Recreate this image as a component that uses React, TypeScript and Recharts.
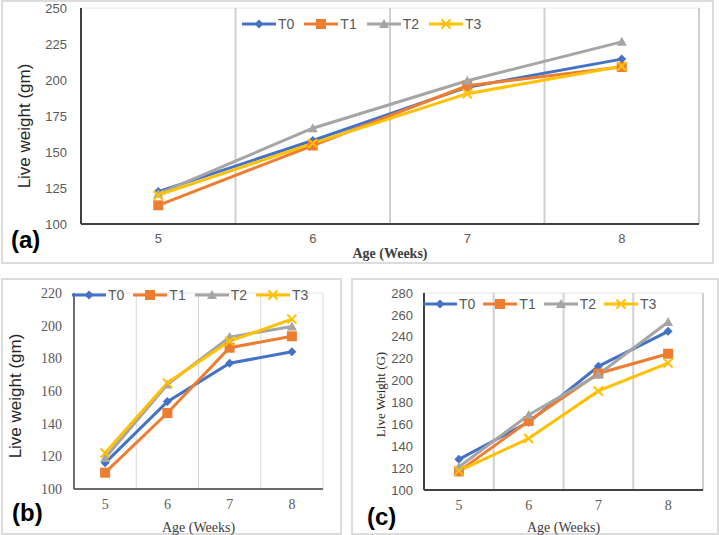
import { LineChart, Line, XAxis, YAxis, CartesianGrid, Legend, Label } from "recharts";

const weeks = [5, 6, 7, 8];
const seriesNames = ["T0", "T1", "T2", "T3"];
const seriesColors = ["#4472C4", "#ED7D31", "#A5A5A5", "#FFC000"];
const markerShapes = ["diamond", "square", "triangle", "x"];

// (a) live weight, gm
const aT0 = [122.5, 158, 195, 214.5];
const aT1 = [113, 154.5, 196, 209];
const aT2 = [121, 166.5, 199.5, 226.5];
const aT3 = [120, 156, 190.5, 209.5];
const aTicks = [100, 125, 150, 175, 200, 225, 250];

// (b) live weight, gm
const bT0 = [116, 153.5, 177, 184];
const bT1 = [110, 146.5, 186.5, 193.5];
const bT2 = [119, 164, 193, 199.5];
const bT3 = [122, 165, 190.5, 204];
const bTicks = [100, 120, 140, 160, 180, 200, 220];

// (c) live weight, G
const cT0 = [128, 162, 213, 245];
const cT1 = [117, 163, 206.5, 224.5];
const cT2 = [121, 168.5, 205.5, 253.5];
const cT3 = [117.5, 147, 190.5, 216];
const cTicks = [100, 120, 140, 160, 180, 200, 220, 240, 260, 280];

const weekTicks = [5, 6, 7, 8];
const bandEdges = [4.5, 5.5, 6.5, 7.5, 8.5];

const SANS = "'Liberation Sans', Arial, sans-serif";
const SERIF = "'Liberation Serif', 'Times New Roman', serif";

function buildRows(s0: number[], s1: number[], s2: number[], s3: number[]) {
  return weeks.map((w, i) => ({ week: w, T0: s0[i], T1: s1[i], T2: s2[i], T3: s3[i] }));
}

// excel-style minor gridlines: each major step split in 5
function minorTicks(ticks: number[]) {
  const out: number[] = [];
  for (let i = 0; i < ticks.length - 1; i++) {
    const step = (ticks[i + 1] - ticks[i]) / 5;
    for (let k = 0; k < 5; k++) out.push(ticks[i] + k * step);
  }
  out.push(ticks[ticks.length - 1]);
  return out;
}

function Marker({ cx, cy, shape, color }: any) {
  if (cx == null || cy == null) return null;
  if (shape === "diamond") {
    const s = 4.5;
    return <path d={`M${cx},${cy - s}L${cx + s},${cy}L${cx},${cy + s}L${cx - s},${cy}Z`} fill={color} />;
  }
  if (shape === "square") {
    const s = 5;
    return <rect x={cx - s} y={cy - s} width={2 * s} height={2 * s} fill={color} />;
  }
  if (shape === "triangle") {
    const s = 5;
    return <path d={`M${cx},${cy - s}L${cx + s},${cy + s * 0.8}L${cx - s},${cy + s * 0.8}Z`} fill={color} />;
  }
  const s = 4.5;
  return (
    <path
      d={`M${cx - s},${cy - s}L${cx + s},${cy + s}M${cx + s},${cy - s}L${cx - s},${cy + s}`}
      stroke={color}
      strokeWidth={2}
      fill="none"
    />
  );
}

function legendContent(gap: number, fontSize: number) {
  return (props: any) => (
    <div style={{ display: "flex", alignItems: "center" }}>
      {(props.payload || []).map((p: any) => {
        const idx = seriesNames.indexOf(p.value);
        return (
          <div key={p.value} style={{ display: "flex", alignItems: "center", marginRight: gap }}>
            <svg width={34} height={14}>
              <line x1={0} y1={7} x2={34} y2={7} stroke={p.color} strokeWidth={3} />
              <Marker cx={17} cy={7} shape={markerShapes[idx]} color={p.color} />
            </svg>
            <span style={{ marginLeft: 2, fontFamily: SANS, fontSize, color: "#595959" }}>{p.value}</span>
          </div>
        );
      })}
    </div>
  );
}

function Panel(props: any) {
  const {
    rows, ticks, width, height, margin, yAxisWidth, xAxisHeight,
    tickFont, tickSize, xTickFont, xTickSize, yTickMargin, xTickMargin,
    yLabel, yLabelFont, yLabelSize, yLabelOffset, yLabelDy,
    xLabelFont, xLabelSize, xLabelWeight, xLabelOffset,
    legendLeft, legendTop, legendGap, vGridColor, vGridWidth, axisWidth,
  } = props;
  const domain = [ticks[0], ticks[ticks.length - 1]];
  return (
    <LineChart width={width} height={height} data={rows} margin={margin}>
      <XAxis xAxisId="grid" dataKey="week" type="number" domain={[4.5, 8.5]} ticks={bandEdges} hide />
      <YAxis yAxisId="minor" type="number" domain={domain} ticks={minorTicks(ticks)} hide />
      <CartesianGrid xAxisId="grid" yAxisId="minor" vertical={false} stroke="#e6e6e6" strokeWidth={1} />
      <CartesianGrid xAxisId="grid" yAxisId="minor" horizontal={false} stroke={vGridColor} strokeWidth={vGridWidth} />
      <XAxis
        dataKey="week"
        type="number"
        domain={[4.5, 8.5]}
        ticks={weekTicks}
        height={xAxisHeight}
        tickLine={false}
        tickSize={0}
        tickMargin={xTickMargin}
        axisLine={{ stroke: "#404040", strokeWidth: axisWidth }}
        tick={{ fill: "#595959", fontSize: xTickSize, fontFamily: xTickFont }}
      >
        <Label
          value="Age (Weeks)"
          position="insideBottom"
          offset={xLabelOffset}
          style={{ fill: "#404040", fontFamily: xLabelFont, fontSize: xLabelSize, fontWeight: xLabelWeight }}
        />
      </XAxis>
      <YAxis
        type="number"
        domain={domain}
        ticks={ticks}
        width={yAxisWidth}
        tickLine={false}
        tickSize={0}
        tickMargin={yTickMargin}
        axisLine={{ stroke: "#404040", strokeWidth: axisWidth }}
        tick={{ fill: "#595959", fontSize: tickSize, fontFamily: tickFont }}
      >
        <Label
          value={yLabel}
          angle={-90}
          position="insideLeft"
          offset={yLabelOffset}
          dy={yLabelDy}
          textAnchor="middle"
          style={{ fill: "#262626", fontFamily: yLabelFont, fontSize: yLabelSize, textAnchor: "middle" }}
        />
      </YAxis>
      <Legend
        verticalAlign="middle"
        layout="horizontal"
        content={legendContent(legendGap, 14)}
        wrapperStyle={{ left: legendLeft, top: legendTop, width: "auto", height: "auto" }}
      />
      {seriesNames.map((name, i) => (
        <Line
          key={name}
          dataKey={name}
          name={name}
          stroke={seriesColors[i]}
          strokeWidth={3}
          isAnimationActive={false}
          dot={(d: any) => (
            <Marker key={`${name}-${d.index}`} cx={d.cx} cy={d.cy} shape={markerShapes[i]} color={seriesColors[i]} />
          )}
          activeDot={false}
        />
      ))}
    </LineChart>
  );
}

const tagStyle: any = {
  position: "absolute",
  fontFamily: SANS,
  fontWeight: "bold",
  fontSize: 24,
  lineHeight: 1,
  color: "#000",
};

const boxStyle: any = {
  position: "absolute",
  border: "2px solid #dcdcdc",
  boxSizing: "border-box",
};

export default function App() {
  return (
    <div style={{ position: "absolute", left: 0, top: 0, width: 719, height: 535, background: "#fff", overflow: "hidden" }}>
      <div style={{ ...boxStyle, left: 1, top: 0, width: 713, height: 264 }} />
      <div style={{ ...boxStyle, left: 1, top: 278, width: 341, height: 257 }} />
      <div style={{ ...boxStyle, left: 351, top: 278, width: 368, height: 257 }} />

      <div style={{ position: "absolute", left: 0, top: 0 }}>
        <Panel
          rows={buildRows(aT0, aT1, aT2, aT3)}
          ticks={aTicks}
          width={719}
          height={265}
          margin={{ top: 8, right: 20, left: 0, bottom: 0 }}
          yAxisWidth={81}
          xAxisHeight={41}
          tickFont={SANS}
          tickSize={13}
          xTickFont={SANS}
          xTickSize={13}
          yTickMargin={14}
          xTickMargin={10}
          yLabel="Live weight (gm)"
          yLabelFont={SANS}
          yLabelSize={17}
          yLabelOffset={24}
          yLabelDy={10}
          xLabelFont={SERIF}
          xLabelSize={14}
          xLabelWeight="bold"
          xLabelOffset={7}
          legendLeft={242}
          legendTop={16}
          legendGap={10}
          vGridColor="#cfcfcf"
          vGridWidth={2}
          axisWidth={2}
        />
      </div>

      <div style={{ position: "absolute", left: 0, top: 270 }}>
        <Panel
          rows={buildRows(bT0, bT1, bT2, bT3)}
          ticks={bTicks}
          width={345}
          height={265}
          margin={{ top: 23, right: 22, left: 0, bottom: 0 }}
          yAxisWidth={74}
          xAxisHeight={46}
          tickFont={SERIF}
          tickSize={14}
          xTickFont={SERIF}
          xTickSize={14}
          yTickMargin={12}
          xTickMargin={10}
          yLabel="Live weight (gm)"
          yLabelFont={SANS}
          yLabelSize={17}
          yLabelOffset={15}
          yLabelDy={5}
          xLabelFont={SERIF}
          xLabelSize={14}
          xLabelWeight="normal"
          xLabelOffset={3}
          legendLeft={72}
          legendTop={17}
          legendGap={9}
          vGridColor="#d9d9d9"
          vGridWidth={1}
          axisWidth={1.5}
        />
      </div>

      <div style={{ position: "absolute", left: 352, top: 270 }}>
        <Panel
          rows={buildRows(cT0, cT1, cT2, cT3)}
          ticks={cTicks}
          width={367}
          height={265}
          margin={{ top: 23, right: 16, left: 0, bottom: 0 }}
          yAxisWidth={72}
          xAxisHeight={45}
          tickFont={SANS}
          tickSize={13}
          xTickFont={SERIF}
          xTickSize={14}
          yTickMargin={11}
          xTickMargin={10}
          yLabel="Live Weight (G)"
          yLabelFont={SERIF}
          yLabelSize={13}
          yLabelOffset={28}
          yLabelDy={3}
          xLabelFont={SERIF}
          xLabelSize={14}
          xLabelWeight="normal"
          xLabelOffset={3}
          legendLeft={71}
          legendTop={26}
          legendGap={8}
          vGridColor="#d0d0d0"
          vGridWidth={2}
          axisWidth={2}
        />
      </div>

      <div style={{ ...tagStyle, left: 11, top: 228 }}>(a)</div>
      <div style={{ ...tagStyle, left: 12, top: 501 }}>(b)</div>
      <div style={{ ...tagStyle, left: 367, top: 505 }}>(c)</div>
    </div>
  );
}
